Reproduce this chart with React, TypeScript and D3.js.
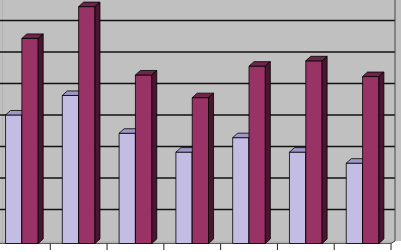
import React from 'react';
import * as d3 from 'd3';

// chart data
const categories = ['1', '2', '3', '4', '5', '6', '7'];
const seriesNames = ['A', 'B'];
const seriesA = [40.8, 47.0, 35.0, 29.0, 33.6, 29.0, 25.5];
const seriesB = [65.1, 75.2, 53.5, 46.3, 56.3, 58.0, 53.0];
const gridValues = [10, 20, 30, 40, 50, 60, 70];

const W = 401;
const H = 252;
const base = 243.5;
const wallShift = -2.5;
const dx = 5;
const dy = -4.5;
const wallRight = 395;

const colors = {
  A: { front: '#c3bce3', top: '#9f97c6', side: '#857dab' },
  B: { front: '#993366', top: '#6f2449', side: '#4a1530' },
};

const App = () => {
  const x0 = d3.scaleBand().domain(categories).range([-6.5, 391]).padding(0);
  const bw = x0.bandwidth();
  const x1 = d3.scaleBand().domain(seriesNames).range([0.212 * bw, 0.787 * bw]).padding(0);
  const y = d3.scaleLinear().domain([0, 80]).range([base, base - 80 * 3.15]);

  const bar = (cat, s, v, key) => {
    const x = x0(cat) + x1(s);
    const w = x1.bandwidth();
    const top = y(v);
    const c = colors[s];
    const pts = (arr) => arr.map((p) => p.join(',')).join(' ');
    return (
      <g key={key} stroke="#000" strokeWidth={0.8} strokeLinejoin="round">
        <rect x={x} y={top} width={w} height={base - top} fill={c.front} />
        <polygon points={pts([[x, top], [x + dx, top + dy], [x + w + dx, top + dy], [x + w, top]])} fill={c.top} />
        <polygon points={pts([[x + w, top], [x + w + dx, top + dy], [x + w + dx, base + dy], [x + w, base]])} fill={c.side} />
      </g>
    );
  };

  const ticks = d3.range(1, categories.length + 1).map((i) => -6.5 + i * bw);

  return (
    <svg width={W} height={H} style={{ position: 'absolute', left: 0, top: 0, background: '#fff' }}>
      {/* back wall */}
      <rect x={0} y={0} width={W} height={y(0) + wallShift} fill="#c0c0c0" />
      {/* floor */}
      <polygon
        points={`0,${base + wallShift} ${wallRight},${base + wallShift} 391,${base} 0,${base}`}
        fill="#b4b4b4"
      />
      <line x1={0} x2={391} y1={base} y2={base} stroke="#555" strokeWidth={1} />
      <line x1={2.5} x2={2.5} y1={0} y2={base} stroke="#aaa" strokeWidth={0.6} />
      {gridValues.map((v) => (
        <line key={v} x1={0} x2={wallRight} y1={y(v) + wallShift} y2={y(v) + wallShift} stroke="#111" strokeWidth={1.4} />
      ))}
      <line x1={wallRight} x2={wallRight} y1={0} y2={base + wallShift} stroke="#444" strokeWidth={1} />
      <line x1={391} x2={wallRight} y1={base} y2={base + wallShift} stroke="#444" strokeWidth={1} />
      {categories.map((c, i) => (
        <g key={c}>
          {bar(c, 'A', seriesA[i], 'a')}
          {bar(c, 'B', seriesB[i], 'b')}
        </g>
      ))}
      {ticks.map((t) => (
        <line key={t} x1={t} x2={t} y1={base} y2={250} stroke="#222" strokeWidth={1} />
      ))}
    </svg>
  );
};

export default App;
